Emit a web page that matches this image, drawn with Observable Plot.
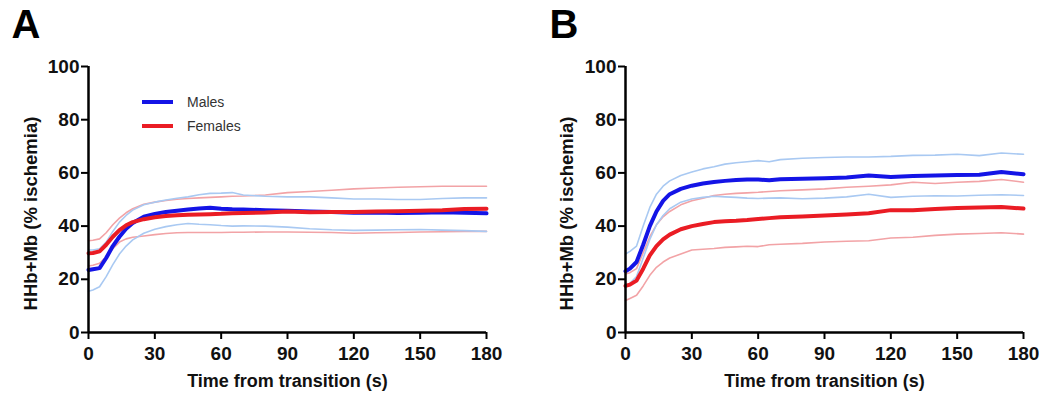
<!DOCTYPE html>
<html>
<head>
<meta charset="utf-8">
<script src="https://cdn.jsdelivr.net/npm/d3@7"></script>
<script src="https://cdn.jsdelivr.net/npm/@observablehq/plot@0.6"></script>
<style>
  html, body { margin: 0; padding: 0; background: #fff; }
  #wrap { position: relative; width: 1041px; height: 394px; overflow: hidden; font-family: "Liberation Sans", Arial, sans-serif; }
  .panel { position: absolute; top: 0; }
  .legend { position: absolute; font-size: 14px; color: #333; }
  .legend .row { display: flex; align-items: center; height: 24px; }
  .legend .sw { width: 31px; height: 4px; margin-right: 14px; }
</style>
</head>
<body>
<div id="wrap"></div>
<script>
// ---- data ----
const time = [0, 2, 5, 8, 11, 14, 17, 20, 25, 30, 35, 40, 45, 50, 55, 60, 65, 70, 80, 90, 100, 110, 120, 130, 140, 150, 160, 170, 180];
const yTicks = [0, 20, 40, 60, 80, 100];
const xTicks = [0, 30, 60, 90, 120, 150, 180];
const seriesNames = ["Males", "Females"];
const xTitle = "Time from transition (s)";
const yTitle = "HHb+Mb (% ischemia)";

// Panel A
const aMalesMean   = [23.5, 23.8, 24.2, 28, 32.5, 36, 39, 41.2, 43.5, 44.6, 45.3, 45.8, 46.2, 46.6, 46.9, 46.5, 46.3, 46.2, 46.0, 45.8, 45.5, 45.3, 45.0, 45.1, 44.9, 45.0, 45.2, 45.0, 44.8];
const aMalesUpper  = [31, 31, 31.5, 34, 38, 41.5, 44, 46, 48, 49, 49.8, 50.5, 51, 51.8, 52.3, 52.4, 52.6, 51.7, 51.2, 51.0, 51.0, 50.6, 50.2, 50.2, 50.0, 50.0, 50.4, 50.6, 50.6];
const aMalesLower  = [15.5, 16, 17.2, 21, 25.5, 29.5, 32.5, 34.8, 37.3, 38.8, 39.8, 40.5, 41, 40.7, 40.5, 40.2, 40, 40.1, 40, 39.6, 39, 38.6, 38.4, 38.5, 38.6, 38.7, 38.5, 38.3, 38.0];
const aFemalesMean  = [29.8, 29.9, 30.5, 33, 36, 38.5, 40.3, 41.5, 42.6, 43.3, 43.8, 44.1, 44.3, 44.4, 44.5, 44.6, 44.8, 44.9, 45.1, 45.5, 45.2, 45.3, 45.3, 45.5, 45.6, 45.8, 46.0, 46.4, 46.5];
const aFemalesUpper = [34.5, 34.7, 35.2, 37.5, 40.5, 43, 45, 46.5, 48.2, 49, 49.6, 50.1, 50.4, 50.6, 50.8, 51, 51.2, 51.3, 51.7, 52.6, 53, 53.5, 54, 54.3, 54.6, 54.8, 55, 55, 55];
const aFemalesLower = [25, 25.3, 26, 28.5, 31.5, 34, 35.2, 35.8, 36.3, 36.8, 37.2, 37.5, 37.6, 37.6, 37.6, 37.6, 37.7, 37.7, 37.8, 37.8, 37.7, 37.6, 37.3, 37.5, 37.6, 37.8, 37.9, 38.0, 38.0];

// Panel B
const bMalesMean   = [23, 24, 26.5, 33, 40, 45.5, 49.5, 52, 54, 55.2, 56, 56.6, 57, 57.3, 57.5, 57.5, 57.2, 57.6, 57.8, 58, 58.3, 59, 58.5, 58.8, 59.0, 59.2, 59.3, 60.3, 59.5];
const bMalesUpper  = [29.5, 30.5, 32.5, 40, 47, 52, 55, 57, 59, 60.3, 61.5, 62.3, 63.3, 63.8, 64.2, 64.6, 64.2, 65, 65.5, 65.8, 66, 66, 66.2, 66.6, 66.7, 67, 66.5, 67.5, 67];
const bMalesLower  = [17.5, 18.5, 21, 28, 35, 40.5, 44, 46.5, 49, 50.2, 50.8, 51.2, 51, 50.8, 50.5, 50.4, 50.5, 50.6, 50.3, 50.5, 51, 52, 50.8, 51.2, 51.4, 51.3, 51.6, 51.8, 51.5];
const bFemalesMean  = [17.5, 18, 19.5, 24, 29, 32.5, 35, 36.8, 38.8, 40, 40.8, 41.5, 41.8, 42, 42.3, 42.7, 43, 43.3, 43.6, 44, 44.4, 44.8, 46, 46, 46.4, 46.8, 47, 47.2, 46.6];
const bFemalesUpper = [22, 22.5, 24, 30, 36, 40.5, 43.5, 45.5, 48, 49.5, 50.5, 51.5, 52, 52.3, 52.5, 52.7, 53, 53.3, 53.6, 54, 54.6, 55, 55.5, 56.5, 56, 56.5, 56.8, 57.5, 56.5];
const bFemalesLower = [12, 12.8, 14, 17.5, 21.5, 24.5, 26.5, 28, 29.5, 31, 31.3, 31.6, 32, 32.2, 32.4, 32.3, 33, 33.2, 33.5, 34, 34.3, 34.5, 35.5, 35.8, 36.5, 37, 37.2, 37.5, 37];

// ---- styles ----
const FONT = "Liberation Sans, Arial, sans-serif";
const colors = {
  Males: {mean: "#1414e6", band: "#a9c9f2"},
  Females: {mean: "#ea1c24", band: "#f2a3a6"}
};

function toRows(arr) { return time.map((t, i) => ({t, v: arr[i]})); }

function panel(letter, d, opts) {
  const thin = (arr, c) => Plot.line(toRows(arr), {x: "t", y: "v", stroke: c, strokeWidth: 1.6, curve: "linear"});
  const thick = (arr, c) => Plot.line(toRows(arr), {x: "t", y: "v", stroke: c, strokeWidth: 4, curve: "linear"});
  return Plot.plot({
    width: opts.width,
    height: 394,
    marginLeft: opts.marginLeft,
    marginRight: opts.marginRight,
    marginTop: 66,
    marginBottom: 62,
    style: {fontFamily: FONT, background: "transparent", overflow: "visible"},
    x: {domain: [0, 180]},
    y: {domain: [0, 100]},
    marks: [
      thin(d.fLower, colors.Females.band),
      thin(d.fUpper, colors.Females.band),
      thin(d.mLower, colors.Males.band),
      thin(d.mUpper, colors.Males.band),
      thick(d.mMean, colors.Males.mean),
      thick(d.fMean, colors.Females.mean),
      Plot.axisY({ticks: yTicks, tickSize: 7, tickPadding: 2, strokeWidth: 2, stroke: "#000",
        fontSize: 19, fontWeight: "bold", fill: "#111", label: null}),
      Plot.axisX({ticks: xTicks, tickSize: 7, tickPadding: 7, strokeWidth: 2, stroke: "#000",
        fontSize: 19, fontWeight: "bold", fill: "#111", label: null}),
      Plot.text([xTitle], {frameAnchor: "bottom", text: d => d, dy: 49, lineAnchor: "middle",
        fontSize: 18, fontWeight: "bold", fill: "#111"}),
      Plot.text([yTitle], {frameAnchor: "left", text: d => d, dx: opts.yTitleDx, dy: 14, rotate: -90,
        textAnchor: "middle", lineAnchor: "middle", fontSize: 18.5, fontWeight: "bold", fill: "#111"}),
      Plot.ruleX([0], {stroke: "#000", strokeWidth: 2.5}),
      Plot.ruleY([0], {stroke: "#000", strokeWidth: 2.5}),
      Plot.text([letter], {frameAnchor: "top-left", text: d => d, dx: opts.letterDx, dy: -41,
        textAnchor: "start", lineAnchor: "middle", fontSize: 40, fontWeight: "bold", fill: "#000"})
    ]
  });
}

const wrap = document.getElementById("wrap");

const pA = panel("A", {mMean: aMalesMean, mUpper: aMalesUpper, mLower: aMalesLower, fMean: aFemalesMean, fUpper: aFemalesUpper, fLower: aFemalesLower},
  {width: 520, marginLeft: 88, marginRight: 34, yTitleDx: -57, letterDx: -77});
pA.classList.add("panel"); pA.style.left = "0px";
wrap.appendChild(pA);

const pB = panel("B", {mMean: bMalesMean, mUpper: bMalesUpper, mLower: bMalesLower, fMean: bFemalesMean, fUpper: bFemalesUpper, fLower: bFemalesLower},
  {width: 521, marginLeft: 105, marginRight: 18, yTitleDx: -58, letterDx: -76});
pB.classList.add("panel"); pB.style.left = "520px";
wrap.appendChild(pB);

// legend (panel A)
const leg = document.createElement("div");
leg.className = "legend";
leg.style.left = "142px";
leg.style.top = "90px";
for (const name of seriesNames) {
  const row = document.createElement("div");
  row.className = "row";
  const sw = document.createElement("div");
  sw.className = "sw";
  sw.style.background = colors[name].mean;
  const lab = document.createElement("span");
  lab.textContent = name;
  row.appendChild(sw); row.appendChild(lab);
  leg.appendChild(row);
}
wrap.appendChild(leg);
</script>
</body>
</html>
